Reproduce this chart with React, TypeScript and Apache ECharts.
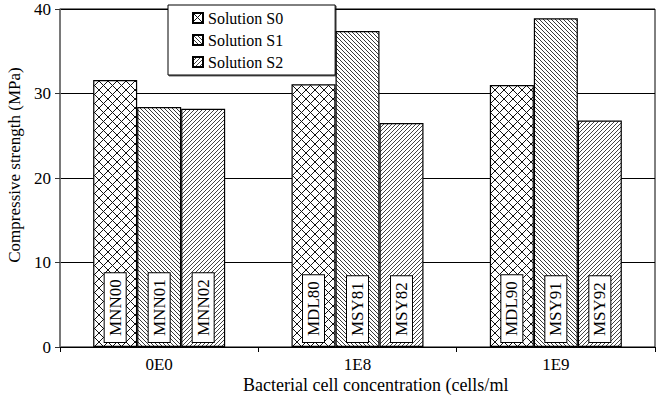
import React, { useEffect, useRef } from "react";
import * as echarts from "echarts";

const categories = ["0E0", "1E8", "1E9"];
const seriesNames = ["Solution S0", "Solution S1", "Solution S2"];
const s0Values = [31.6, 31.1, 31.0];
const s1Values = [28.4, 37.4, 38.9];
const s2Values = [28.2, 26.5, 26.8];
const s0Labels = ["MNN00", "MDL80", "MDL90"];
const s1Labels = ["MNN01", "MSY81", "MSY91"];
const s2Labels = ["MNN02", "MSY82", "MSY92"];
const yTicks = [0, 10, 20, 30, 40];

const FONT = "Times New Roman, Liberation Serif, DejaVu Serif, serif";

function makePattern(kind: string) {
  const s = kind === "cross" ? 9 : 4;
  const c = document.createElement("canvas");
  c.width = s;
  c.height = s;
  const ctx = c.getContext("2d")!;
  ctx.fillStyle = "#fff";
  ctx.fillRect(0, 0, s, s);
  ctx.strokeStyle = kind === "fwd" ? "#444" : kind === "back" ? "#222" : "#111";
  ctx.lineWidth = kind === "back" ? 0.9 : 1;
  ctx.beginPath();
  for (const k of [-s, 0, s]) {
    if (kind === "cross" || kind === "back") {
      ctx.moveTo(k, 0);
      ctx.lineTo(k + s, s);
    }
    if (kind === "cross" || kind === "fwd") {
      ctx.moveTo(k, s);
      ctx.lineTo(k + s, 0);
    }
  }
  ctx.stroke();
  return { image: c.toDataURL(), repeat: "repeat", imageWidth: s, imageHeight: s } as any;
}

export default function App() {
  const ref = useRef<HTMLDivElement>(null);
  useEffect(() => {
    const chart = echarts.init(ref.current!, null, { renderer: "svg" });
    const patterns = [makePattern("cross"), makePattern("back"), makePattern("fwd")];
    const values = [s0Values, s1Values, s2Values];
    const labels = [s0Labels, s1Labels, s2Labels];
    chart.setOption({
      animation: false,
      backgroundColor: "#fff",
      textStyle: { fontFamily: FONT },
      grid: {
        left: 60,
        right: 1,
        top: 9,
        bottom: 55,
        show: true,
        borderColor: "#000",
        borderWidth: 1,
      },
      legend: {
        orient: "vertical",
        left: 168,
        top: 5,
        padding: [4, 52, 4, 24],
        itemGap: 4,
        itemWidth: 10,
        itemHeight: 10,
        icon: "rect",
        backgroundColor: "#fff",
        borderColor: "#000",
        borderWidth: 1,
        shadowColor: "rgba(0,0,0,0.6)",
        shadowOffsetX: 1,
        shadowOffsetY: 1,
        shadowBlur: 0,
        textStyle: { fontFamily: FONT, fontSize: 16, color: "#000", lineHeight: 18 },
        data: seriesNames,
      },
      xAxis: {
        type: "category",
        data: categories,
        axisLine: { lineStyle: { color: "#000", width: 1 } },
        axisTick: { show: true, length: 5, inside: false, lineStyle: { color: "#000" } },
        axisLabel: { fontFamily: FONT, fontSize: 17, color: "#000", margin: 9 },
        splitLine: { show: false },
      },
      yAxis: {
        type: "value",
        min: 0,
        max: 40,
        interval: 10,
        axisLine: { show: true, lineStyle: { color: "#777", width: 1.5 } },
        axisTick: { show: true, length: 5, lineStyle: { color: "#333" } },
        axisLabel: {
          fontFamily: FONT,
          fontSize: 17,
          color: "#000",
          margin: 9,
          formatter: (v: number) => (yTicks.includes(v) ? String(v) : ""),
        },
        splitLine: { show: true, lineStyle: { color: "#000", width: 1 } },
      },
      graphic: [
        {
          type: "text",
          x: 14,
          y: 165,
          rotation: Math.PI / 2,
          style: {
            text: "Compressive strength (MPa)",
            fontFamily: FONT,
            fontSize: 17,
            fill: "#000",
            align: "center",
            verticalAlign: "middle",
          },
        },
        {
          type: "text",
          x: 243,
          y: 385,
          style: {
            text: "Bacterial cell concentration (cells/ml",
            fontFamily: FONT,
            fontSize: 18,
            fill: "#000",
            align: "left",
            verticalAlign: "middle",
          },
        },
      ],
      series: seriesNames.map((name, si) => ({
        name,
        type: "bar",
        data: values[si],
        barWidth: 44,
        barGap: "0%",
        itemStyle: { color: patterns[si], borderColor: "#000", borderWidth: 1.2 },
        label: {
          show: true,
          position: "insideBottom",
          distance: 5,
          rotate: 90,
          align: "left",
          verticalAlign: "middle",
          formatter: (p: any) => labels[si][p.dataIndex],
          fontFamily: FONT,
          fontSize: 17,
          color: "#000",
          backgroundColor: "#fff",
          borderColor: "#000",
          borderWidth: 1,
          padding: [2, 6, 2, 6],
        },
      })),
    });
    return () => chart.dispose();
  }, []);
  return (
    <div
      ref={ref}
      style={{ position: "fixed", left: 0, top: 0, width: 656, height: 402, background: "#fff" }}
    />
  );
}
